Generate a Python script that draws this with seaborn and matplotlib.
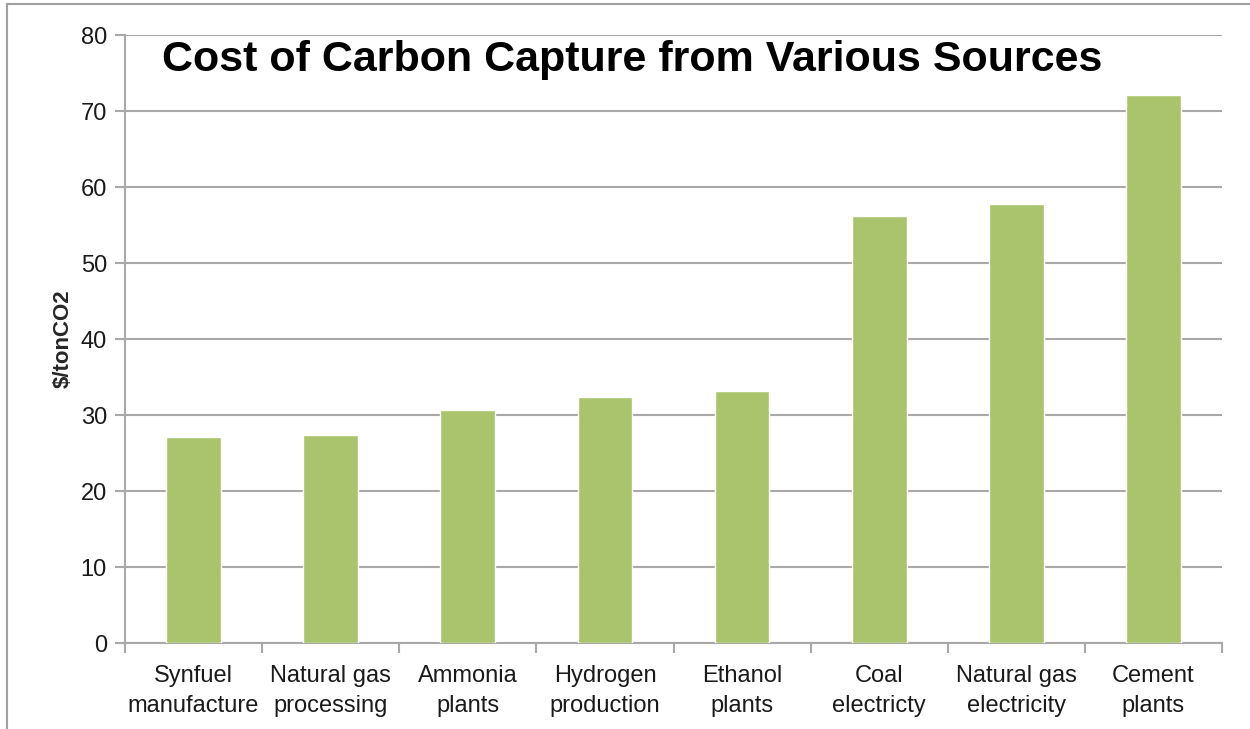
import matplotlib
matplotlib.use("Agg")
import matplotlib.pyplot as plt
from matplotlib.lines import Line2D
import seaborn as sns
import pandas as pd

categories = ["Synfuel\nmanufacture", "Natural gas\nprocessing", "Ammonia\nplants",
              "Hydrogen\nproduction", "Ethanol\nplants", "Coal\nelectricty",
              "Natural gas\nelectricity", "Cement\nplants"]
costs = [27.1, 27.4, 30.7, 32.4, 33.2, 56.2, 57.8, 72.1]
y_ticks = [0, 10, 20, 30, 40, 50, 60, 70, 80]

title = "Cost of Carbon Capture from Various Sources"
y_label = "$/tonCO2"

sns.set_theme(style="white")
plt.rcParams["font.family"] = ["Liberation Sans", "DejaVu Sans"]

W, H = 1250, 729
fig = plt.figure(figsize=(W / 100, H / 100), dpi=100)
ax = fig.add_axes([125 / W, (H - 643) / H, 1097 / W, 608 / H])

df = pd.DataFrame({"source": categories, "cost": costs})
sns.barplot(data=df, x="source", y="cost", color="#A9C46C", saturation=1,
            width=0.4, ax=ax, zorder=3)

grid_c = "#A8A8A8"
ax.set_ylim(0, 80)
ax.set_yticks(y_ticks)
ax.set_xlim(-0.5, len(categories) - 0.5)
ax.yaxis.grid(True, color=grid_c, linewidth=1.5, zorder=0)
ax.set_axisbelow(True)

for side in ["top", "right"]:
    ax.spines[side].set_visible(False)
for side in ["left", "bottom"]:
    ax.spines[side].set_color(grid_c)
    ax.spines[side].set_linewidth(1.5)

# category tick labels centred under each bar, tick marks between categories
ax.set_xticks(range(len(categories)))
ax.set_xticklabels(categories, fontsize=17, color="#1a1a1a", linespacing=1.45)
ax.tick_params(axis="x", length=0, pad=16)
ax.set_xticks([i - 0.5 for i in range(len(categories) + 1)], minor=True)
ax.tick_params(axis="x", which="minor", length=7, width=1.5, color=grid_c, bottom=True)
ax.tick_params(axis="y", length=7, width=1.5, color=grid_c, left=True,
               labelsize=17, labelcolor="#1a1a1a", pad=6)

ax.set_xlabel("")
ax.set_ylabel(y_label, fontsize=16, fontweight="bold", labelpad=5)

ax.text(0.034, 1 - (60 - 35) / 608, title, transform=ax.transAxes, fontsize=31,
        fontweight="bold", va="center", ha="left", color="black")

# outer frame (top and left edges)
frame_c = "#A0A0A0"
fig.add_artist(Line2D([7 / W, 1.0], [1 - 4 / H, 1 - 4 / H], transform=fig.transFigure,
                      color=frame_c, linewidth=1.5))
fig.add_artist(Line2D([7 / W, 7 / W], [1 - 4 / H, 0], transform=fig.transFigure,
                      color=frame_c, linewidth=1.5))

fig.savefig("out.png", dpi=100)
